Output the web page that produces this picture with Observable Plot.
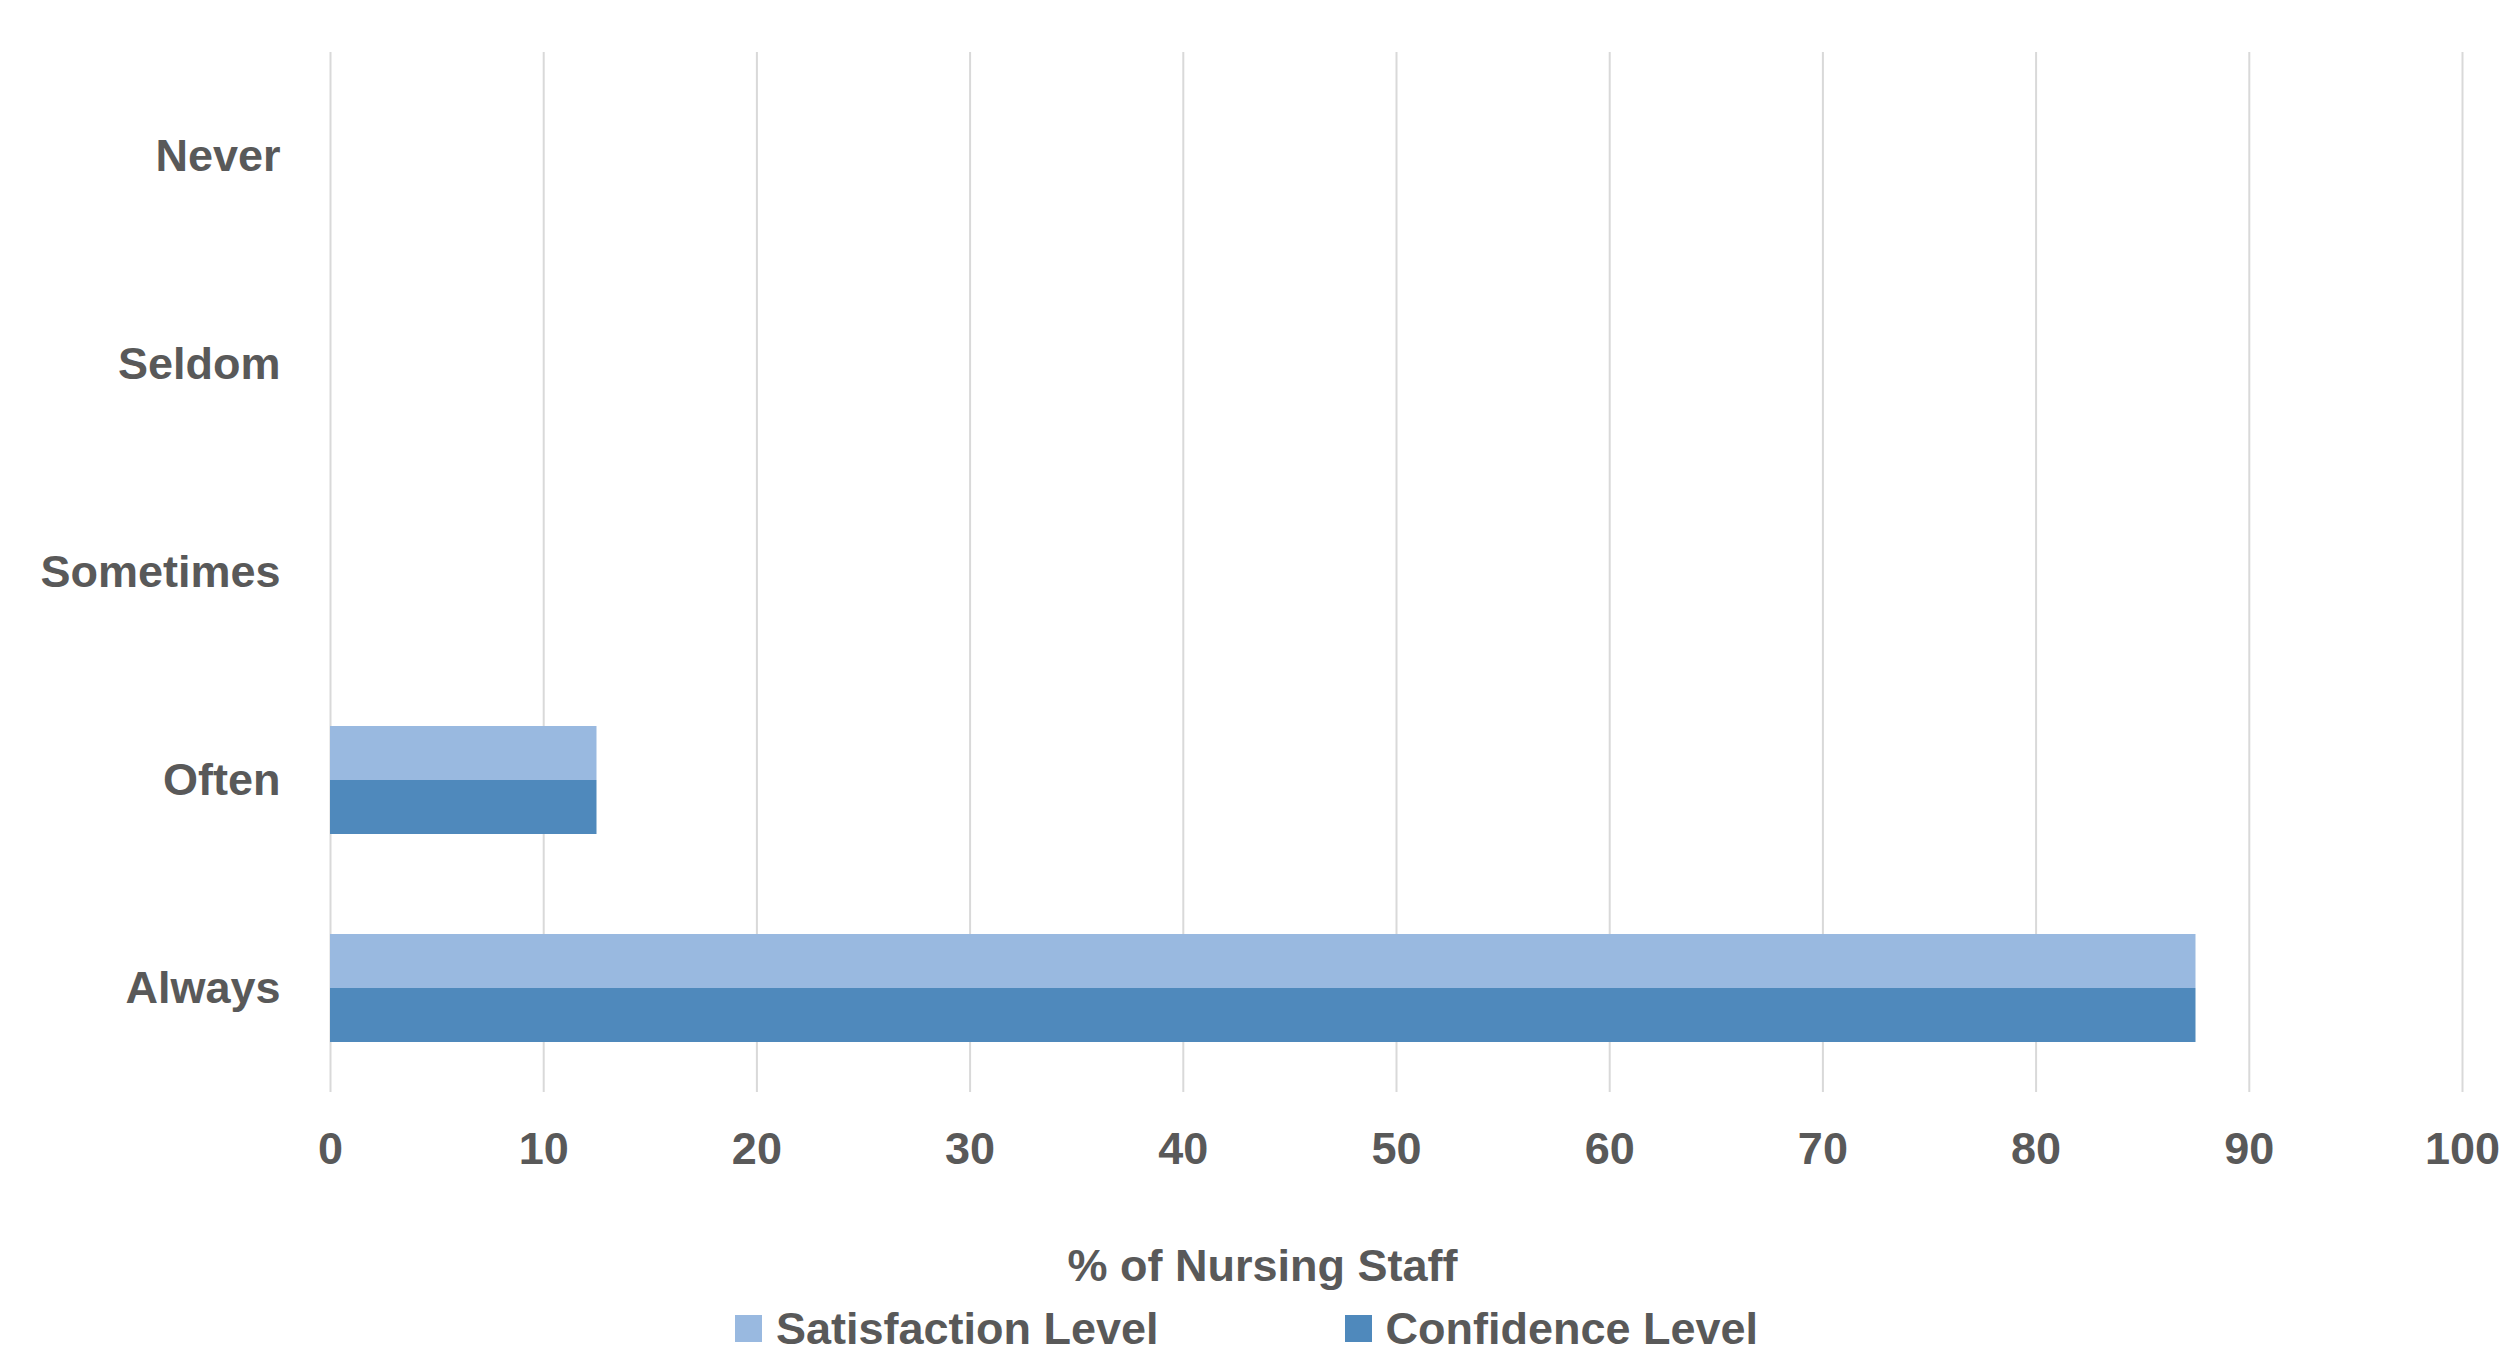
<!DOCTYPE html>
<html>
<head>
<meta charset="utf-8">
<script src="https://cdn.jsdelivr.net/npm/d3@7"></script>
<script src="https://cdn.jsdelivr.net/npm/@observablehq/plot@0.6"></script>
<style>
  html, body { margin: 0; padding: 0; background: #ffffff; overflow: hidden; }
  #chart svg { display: block; }
  .legend {
    display: flex; justify-content: center; align-items: center; gap: 186px;
    height: 45px; line-height: 45px; padding-right: 6px;
    font-family: "Liberation Sans", Arial, sans-serif; font-weight: bold; font-size: 45px; color: #595959;
  }
  .legend .item { display: flex; align-items: center; }
  .legend .sw { width: 27px; height: 27px; margin-right: 14px; }
</style>
</head>
<body>
<div id="chart"></div>
<div class="legend" id="legend"></div>
<script>
const categories = ["Never", "Seldom", "Sometimes", "Often", "Always"];
const seriesNames = ["Satisfaction Level", "Confidence Level"];
const satisfaction = [0, 0, 0, 12.5, 87.5];
const confidence = [0, 0, 0, 12.5, 87.5];
const xTicks = [0, 10, 20, 30, 40, 50, 60, 70, 80, 90, 100];
const seriesColors = ["#99B9E0", "#4F89BC"];
const axisTitle = "% of Nursing Staff";

const satRows = categories.map((c, i) => ({category: c, series: seriesNames[0], value: satisfaction[i]}));
const confRows = categories.map((c, i) => ({category: c, series: seriesNames[1], value: confidence[i]}));

const chart = Plot.plot({
  width: 2499,
  height: 1306,
  marginLeft: 330,
  marginRight: 37,
  marginTop: 52,
  marginBottom: 214,
  style: {
    fontFamily: '"Liberation Sans", Arial, sans-serif',
    fontSize: "45px",
    fontWeight: "bold",
    color: "#595959",
    background: "#ffffff"
  },
  x: {domain: [0, 100]},
  y: {domain: categories, paddingInner: 0.48, paddingOuter: 0.24},
  color: {domain: seriesNames, range: seriesColors},
  marks: [
    Plot.gridX(xTicks, {stroke: "#d9d9d9", strokeOpacity: 1, strokeWidth: 2}),
    Plot.barX(satRows, {x: "value", y: "category", fill: "series", insetBottom: 54}),
    Plot.barX(confRows, {x: "value", y: "category", fill: "series", insetTop: 54}),
    Plot.axisX(xTicks, {tickSize: 0, tickPadding: 40, label: null, fill: "#595959"}),
    Plot.axisY({tickSize: 0, tickPadding: 50, label: null, fill: "#595959"}),
    Plot.text([axisTitle], {text: d => d, frameAnchor: "bottom", lineAnchor: "bottom", dx: -134, dy: 188, fill: "#595959"})
  ]
});
document.getElementById("chart").appendChild(chart);

const legend = document.getElementById("legend");
seriesNames.forEach((name, i) => {
  const item = document.createElement("div");
  item.className = "item";
  const sw = document.createElement("span");
  sw.className = "sw";
  sw.style.background = seriesColors[i];
  const label = document.createElement("span");
  label.textContent = name;
  item.appendChild(sw);
  item.appendChild(label);
  legend.appendChild(item);
});
</script>
</body>
</html>
